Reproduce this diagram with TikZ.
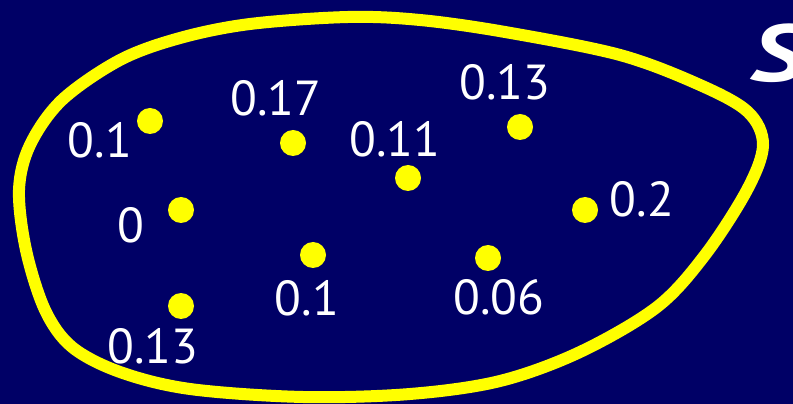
\documentclass[tikz,border=0pt]{standalone}
\usepackage{fontspec}
\setmainfont{PT Sans}
\definecolor{navy}{RGB}{0,0,102}
\definecolor{setyellow}{RGB}{255,255,0}
\tikzset{
  pt/.style={circle,fill=setyellow,inner sep=0pt,minimum size=0.52cm},
  val/.style={text=white,inner sep=0pt,font=\fontsize{28}{30}\selectfont}
}
\begin{document}
\begin{tikzpicture}[x=0.02cm,y=-0.02cm]
\fill[navy] (0,0) rectangle (793,404);
\useasboundingbox (0,0) rectangle (793,404);
\draw[setyellow,line width=0.24cm] plot[smooth cycle,tension=0.55] coordinates {
  (19,190) (26,250) (45,310) (72,347) (120,372) (190,389) (303,397)
  (410,394) (500,381) (580,352) (657,307) (705,255) (747,190) (763,145)
  (748,112) (700,85) (620,55) (505,32) (420,20) (348,17) (250,24) (180,38)
  (120,60) (62,100) (30,145)};
\node[text=white,inner sep=0pt,anchor=base west,xscale=1.3,font=\fontsize{46}{48}\selectfont\bfseries\itshape] (setname) at (750,82) {S};
\node[pt] (p1) at (150,121) {};
\node[val] (v1) at (100,140) {0.1};
\node[pt] (p2) at (293,143) {};
\node[val] (v2) at (276,98) {0.17};
\node[pt] (p3) at (408,178) {};
\node[val] (v3) at (395,139) {0.11};
\node[pt] (p4) at (520,127) {};
\node[val] (v4) at (505,82) {0.13};
\node[pt] (p5) at (181,210) {};
\node[val] (v5) at (131,225) {0};
\node[pt] (p6) at (585,210) {};
\node[val] (v6) at (642,199) {0.2};
\node[pt] (p7) at (313,255) {};
\node[val] (v7) at (307,298) {0.1};
\node[pt] (p8) at (488,258) {};
\node[val] (v8) at (499,297) {0.06};
\node[pt] (p9) at (181,306) {};
\node[val] (v9) at (153,346) {0.13};
\end{tikzpicture}
\end{document}
